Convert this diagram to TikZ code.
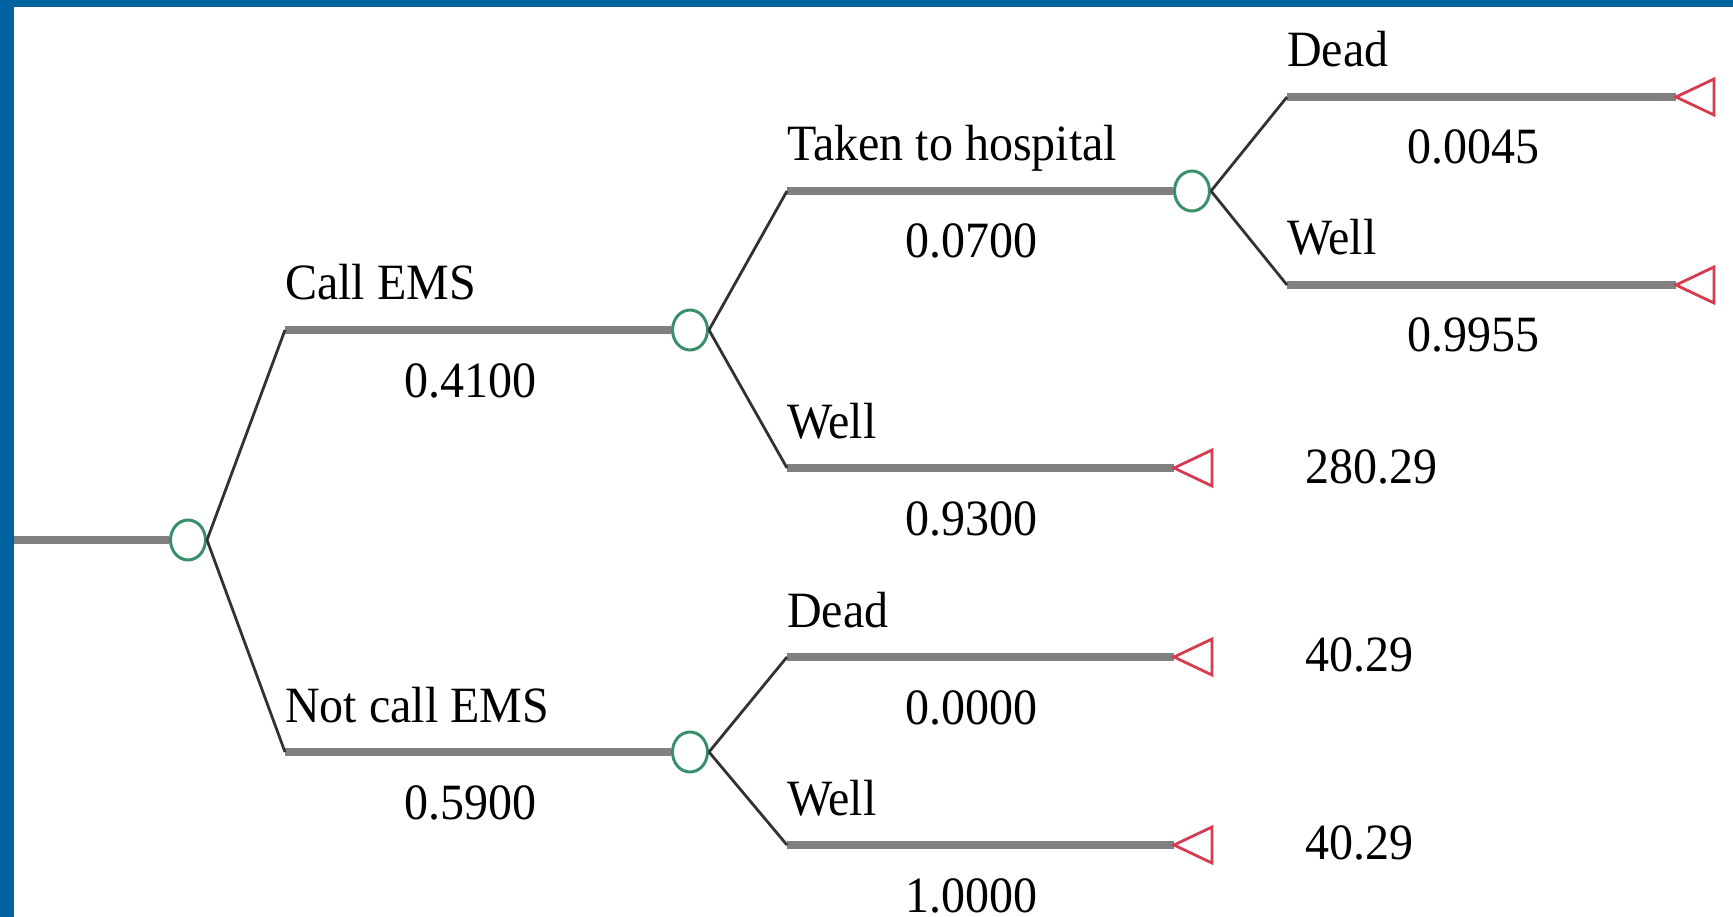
\documentclass[tikz,border=0pt]{standalone}
\usepackage{fontspec}
\setmainfont{Liberation Serif}
\usepackage{graphicx}
\usetikzlibrary{shapes.geometric}
\definecolor{bordercol}{RGB}{0,99,160}
\definecolor{linegray}{RGB}{128,128,128}
\definecolor{diaggray}{RGB}{50,50,50}
\definecolor{chancegreen}{RGB}{58,145,105}
\definecolor{termred}{RGB}{214,60,80}
\tikzset{
  hline/.style={draw=linegray, line width=7.5pt},
  diag/.style={draw=diaggray, line width=2.8pt},
  chance/.style={ellipse, draw=chancegreen, line width=3pt, fill=white,
    minimum width=35pt, minimum height=40pt, inner sep=0pt},
  termtri/.style={draw=termred, line width=2.8pt, fill=white, line join=miter},
  lbl/.style={font=\fontsize{48}{56}\selectfont, inner sep=0pt, text=black},
}
\newcommand{\stx}[1]{\scalebox{1}[1.06]{#1}}
\begin{document}
\begin{tikzpicture}[x=1pt,y=-1pt]
\useasboundingbox (0,0) rectangle (1733,917);
\fill[white] (0,0) rectangle (1733,917);
\clip (0,0) rectangle (1733,917);

% corners and terminal tips
\coordinate (root) at (14,540);
\coordinate (k1) at (285,330);
\coordinate (k2) at (285,752);
\coordinate (k3) at (787,191);
\coordinate (k4) at (787,468);
\coordinate (k5) at (1287,97);
\coordinate (k6) at (1287,285);
\coordinate (k7) at (787,657);
\coordinate (k8) at (787,845);
\coordinate (t1) at (1676,97);
\coordinate (t2) at (1676,285);
\coordinate (t3) at (1174,468);
\coordinate (t4) at (1174,657);
\coordinate (t5) at (1174,845);

% chance nodes
\node[chance] (c1) at (188,540) {};
\node[chance] (c2) at (690,330) {};
\node[chance] (c3) at (1192,191) {};
\node[chance] (c4) at (690,752) {};

% horizontal branches
\draw[hline] (root) -- (c1.west);
\draw[hline] (k1) -- (c2.west);
\draw[hline] (k2) -- (c4.west);
\draw[hline] (k3) -- (c3.west);
\draw[hline] (k4) -- (t3);
\draw[hline] (k5) -- (t1);
\draw[hline] (k6) -- (t2);
\draw[hline] (k7) -- (t4);
\draw[hline] (k8) -- (t5);

% diagonal branches
\draw[diag] (c1.east) -- (k1);
\draw[diag] (c1.east) -- (k2);
\draw[diag] (c2.east) -- (k3);
\draw[diag] (c2.east) -- (k4);
\draw[diag] (c3.east) -- (k5);
\draw[diag] (c3.east) -- (k6);
\draw[diag] (c4.east) -- (k7);
\draw[diag] (c4.east) -- (k8);

% terminal triangles
\foreach \t in {t1,t2,t3,t4,t5}{
  \draw[termtri] (\t) -- ++(38,-18) -- ++(0,36) -- cycle;
}

% labels
\node[lbl, anchor=base west] (lcall) at (285,300) {\stx{Call EMS}};
\node[lbl, anchor=base] (pcall) at (470,397) {\stx{0.4100}};
\node[lbl, anchor=base west] (lnot) at (285,722) {\stx{Not call EMS}};
\node[lbl, anchor=base] (pnot) at (470,819) {\stx{0.5900}};
\node[lbl, anchor=base west] (ltak) at (787,161) {\stx{Taken to hospital}};
\node[lbl, anchor=base] (ptak) at (971,258) {\stx{0.0700}};
\node[lbl, anchor=base west] (lwell1) at (787,438) {\stx{Well}};
\node[lbl, anchor=base] (pwell1) at (971,535) {\stx{0.9300}};
\node[lbl, anchor=base west] (ldead2) at (787,627) {\stx{Dead}};
\node[lbl, anchor=base] (pdead2) at (971,724) {\stx{0.0000}};
\node[lbl, anchor=base west] (lwell3) at (787,815) {\stx{Well}};
\node[lbl, anchor=base] (pwell3) at (971,912) {\stx{1.0000}};
\node[lbl, anchor=base west] (ldead1) at (1287,67) {\stx{Dead}};
\node[lbl, anchor=base] (pdead1) at (1473,164) {\stx{0.0045}};
\node[lbl, anchor=base west] (lwell2) at (1287,255) {\stx{Well}};
\node[lbl, anchor=base] (pwell2) at (1473,352) {\stx{0.9955}};
\node[lbl, anchor=base west] (v1) at (1305,483) {\stx{280.29}};
\node[lbl, anchor=base west] (v2) at (1305,671) {\stx{40.29}};
\node[lbl, anchor=base west] (v3) at (1305,859) {\stx{40.29}};

% frame
\fill[bordercol] (0,0) rectangle (1733,7);
\fill[bordercol] (0,0) rectangle (14,917);
\end{tikzpicture}
\end{document}
